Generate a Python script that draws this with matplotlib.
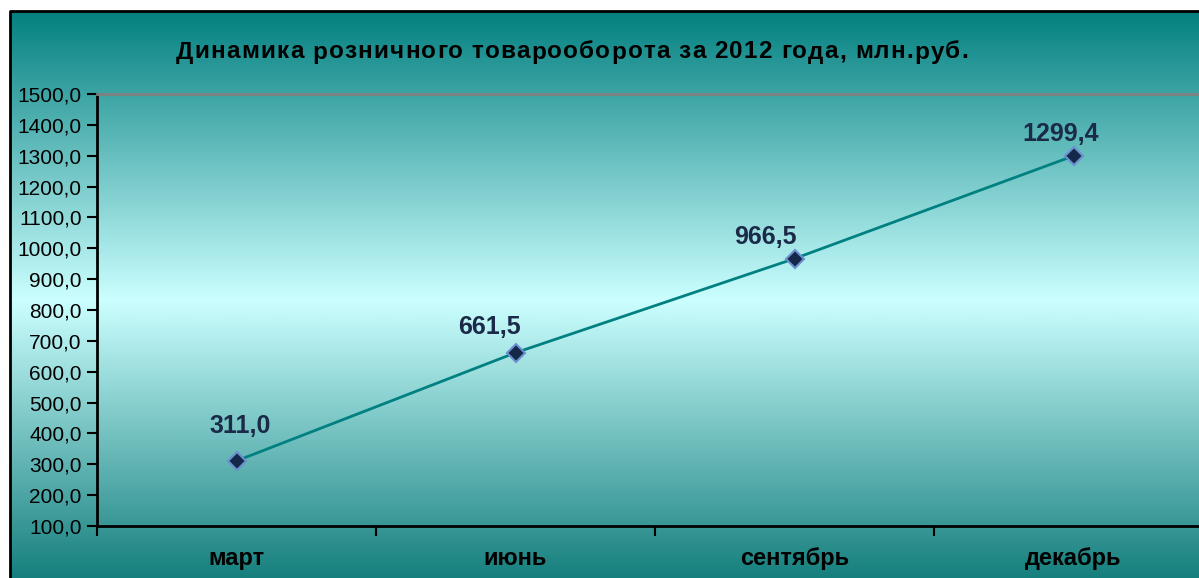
import numpy as np
import matplotlib
matplotlib.use("Agg")
import matplotlib.pyplot as plt
from matplotlib.colors import LinearSegmentedColormap
from matplotlib.font_manager import FontProperties

# Data
months = ["март", "июнь", "сентябрь", "декабрь"]
values = [311.0, 661.5, 966.5, 1299.4]
y_ticks = list(range(100, 1501, 100))
title = "Динамика розничного товарооборота за 2012 года, млн.руб."

# label offsets (px) as placed in the original chart
label_dx = [4, -26, -29, -13]
label_dy = [35, 26, 22, 22]

W, H = 1199, 578
fig = plt.figure(figsize=(W / 100, H / 100), dpi=100)
fig.patch.set_facecolor("white")
plt.rcParams["font.family"] = ["Liberation Sans", "DejaVu Sans"]

# background gradient of the chart area (teal -> light cyan -> teal)
bg = fig.add_axes([0, 0, 1, 1])
bg.set_xlim(0, W)
bg.set_ylim(H, 0)
bg.axis("off")
cmap = LinearSegmentedColormap.from_list(
    "grad", [(0.0, "#048080"), (0.5, "#ccffff"), (1.0, "#0e7a78")])
grad = np.linspace(0, 1, 512).reshape(-1, 1)
bg.imshow(grad, cmap=cmap, extent=[10, W + 5, 590, 11], aspect="auto",
          interpolation="bilinear")
bg.plot([10, 10, W + 5], [H + 5, 11, 11], color="black", lw=2)

# title with slightly wide letter spacing, placed char by char
fp = FontProperties(family="Liberation Sans", weight="bold", size=17.5)
rend = fig.canvas.get_renderer()
def text_w(s):
    return rend.get_text_width_height_descent(s, fp, ismath=False)[0]
spacing = 1.2
base = text_w("H")
pos = [text_w(title[:i] + "H") - base for i in range(len(title))]
total = text_w(title) + spacing * (len(title) - 1)
start = 572 - total / 2
for i, ch in enumerate(title):
    if ch == " ":
        continue
    bg.text(start + pos[i] + i * spacing, 52, ch, ha="left", va="center",
            fontproperties=fp, color="black")

# plot area
x0, x1 = 97, 97 + 4 * 279
y_top, y_bot = 94, 526
ax = fig.add_axes([x0 / W, 1 - y_bot / H, (x1 - x0) / W, (y_bot - y_top) / H])
ax.patch.set_alpha(0)
x = np.arange(len(months))
ax.plot(x, values, color="#008080", lw=2, marker="D", markersize=9,
        markerfacecolor="#14284a", markeredgecolor="#6d8fd0", markeredgewidth=1.5,
        zorder=3)
for xi, v, dx, dy in zip(x, values, label_dx, label_dy):
    ax.annotate(f"{v:.1f}".replace(".", ","), (xi, v), xytext=(dx * 0.72, dy * 0.72),
                textcoords="offset points", ha="center", va="center",
                fontsize=18, fontweight="bold", color="#1a2a48")

ax.set_xlim(-0.5, 3.5)
ax.set_ylim(100, 1500)
ax.set_yticks(y_ticks)
ax.set_yticklabels([f"{t},0" for t in y_ticks], fontsize=15)
ax.set_xticks(np.arange(len(months) + 1) - 0.5)
ax.set_xticklabels([])
ax.set_xticks(x, minor=True)
ax.set_xticklabels(months, minor=True, fontsize=17, fontweight="bold")
ax.tick_params(axis="x", which="minor", length=0, pad=15)
ax.tick_params(axis="x", which="major", length=7, width=1.5, direction="out")
ax.tick_params(axis="y", length=7, width=1.5, direction="out", pad=4)
for s in ["left", "bottom"]:
    ax.spines[s].set_linewidth(2)
ax.spines["right"].set_visible(False)
ax.spines["top"].set_color("#808080")
ax.spines["top"].set_linewidth(2)

fig.savefig("out.png", dpi=100)
